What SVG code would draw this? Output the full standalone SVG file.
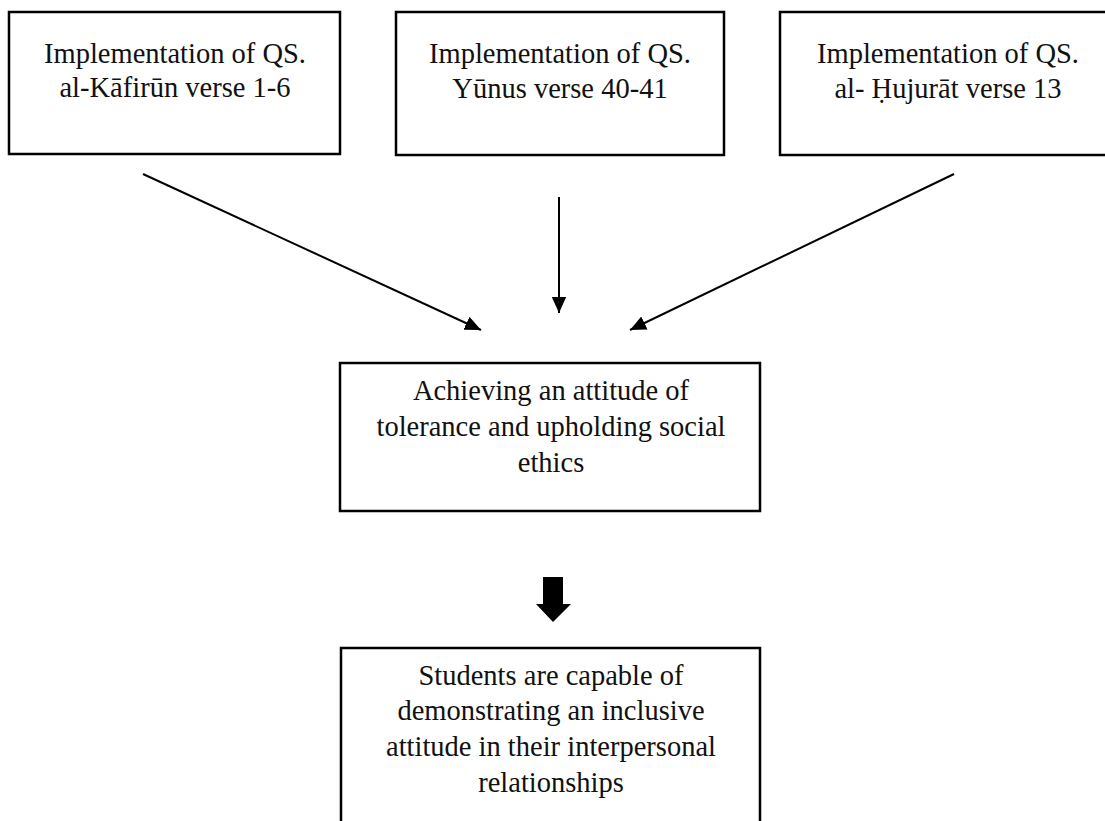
<svg xmlns="http://www.w3.org/2000/svg" width="1105" height="821" viewBox="0 0 1105 821">
<style>
.box{fill:#fff;stroke:#000;stroke-width:2.5}
.t{font-family:"Liberation Serif","Times New Roman",serif;font-size:28.5px;fill:#111;text-anchor:middle}
.c{stroke:#000;stroke-width:2;fill:none}
</style>
<defs>
<marker id="ah" viewBox="0 0 10 10" refX="10" refY="5" markerWidth="8" markerHeight="8" markerUnits="strokeWidth" orient="auto">
<path d="M0,0.5 L10,5 L0,9.5 z" fill="#000"/>
</marker>
</defs>
<rect width="1105" height="821" fill="#fff"/>
<g id="n1">
<rect class="box" x="9" y="12" width="331" height="142"/>
<text class="t" x="175" y="63">Implementation of QS.</text>
<text class="t" x="175" y="97">al-Kāfirūn verse 1-6</text>
</g>
<g id="n2">
<rect class="box" x="396" y="12" width="328" height="143"/>
<text class="t" x="560" y="63">Implementation of QS.</text>
<text class="t" x="560" y="98">Yūnus verse 40-41</text>
</g>
<g id="n3">
<rect class="box" x="780" y="12" width="337" height="143"/>
<text class="t" x="948" y="63">Implementation of QS.</text>
<text class="t" x="948" y="98">al- Ḥujurāt verse 13</text>
</g>
<g id="n4">
<rect class="box" x="340" y="363" width="420" height="148"/>
<text class="t" x="551" y="400">Achieving an attitude of</text>
<text class="t" x="551" y="436">tolerance and upholding social</text>
<text class="t" x="551" y="472">ethics</text>
</g>
<g id="n5">
<rect class="box" x="341" y="648" width="419" height="190"/>
<text class="t" x="551" y="685">Students are capable of</text>
<text class="t" x="551" y="720">demonstrating an inclusive</text>
<text class="t" x="551" y="756">attitude in their interpersonal</text>
<text class="t" x="551" y="792">relationships</text>
</g>
<g id="connectors">
<line class="c" x1="143" y1="174" x2="481" y2="330" marker-end="url(#ah)"/>
<line class="c" x1="559" y1="197" x2="559" y2="313" marker-end="url(#ah)"/>
<line class="c" x1="954" y1="174" x2="630" y2="330" marker-end="url(#ah)"/>
<path d="M543,577 H563 V604 H571 L553,622 L536,604 H543 Z" fill="#000"/>
</g>
</svg>
